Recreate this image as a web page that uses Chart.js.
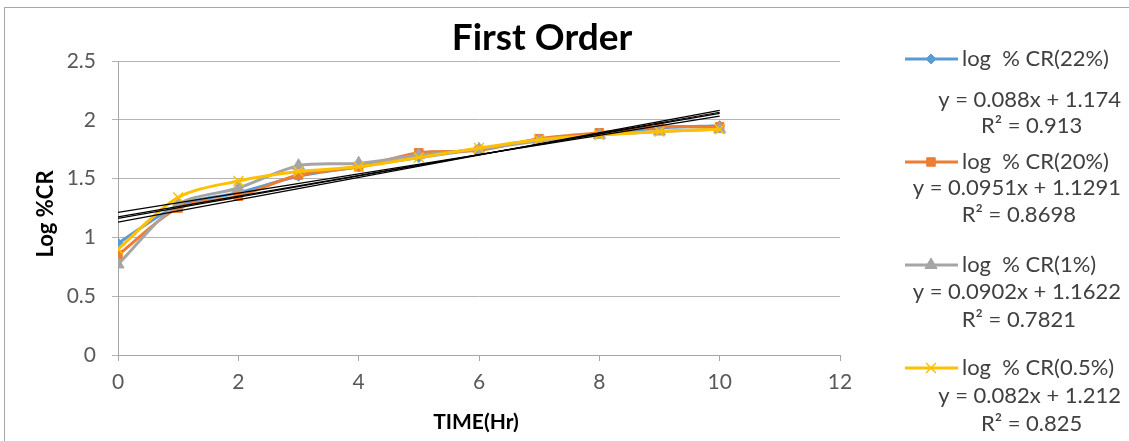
<!DOCTYPE html>
<html>
<head>
<meta charset="utf-8">
<script src="https://cdn.jsdelivr.net/npm/chart.js@4/dist/chart.umd.min.js"></script>
<style>
  html, body { margin: 0; padding: 0; background: #fff; }
  #wrap { position: relative; width: 1129px; height: 441px; overflow: hidden; }
  #frame { position: absolute; left: 4px; top: 7px; width: 1200px; height: 500px; border: 1px solid #a6a6a6; box-sizing: border-box; }
  canvas { position: absolute; left: 0; top: 0; }
</style>
</head>
<body>
<div id="wrap">
  <div id="frame"></div>
  <canvas id="chart" width="1129" height="441"></canvas>
</div>
<script>
// time in hours
const hours = [0, 1, 2, 3, 4, 5, 6, 7, 8, 9, 10];

// log %CR values
const cr22 = [0.95, 1.27, 1.38, 1.52, 1.60, 1.68, 1.75, 1.83, 1.88, 1.93, 1.95];
const cr20 = [0.85, 1.25, 1.35, 1.53, 1.60, 1.72, 1.74, 1.84, 1.89, 1.94, 1.94];
const cr1 = [0.77, 1.28, 1.42, 1.61, 1.63, 1.70, 1.75, 1.82, 1.87, 1.90, 1.92];
const cr05 = [0.90, 1.34, 1.48, 1.56, 1.60, 1.68, 1.76, 1.83, 1.87, 1.90, 1.92];

// linear trendlines: values at x = 0 and x = 10
const trendX = [0, 10];
const trend22 = [1.174, 2.054];
const trend20 = [1.1291, 2.0801];
const trend1 = [1.1622, 2.0642];
const trend05 = [1.212, 2.032];

const seriesNames = ["log  % CR(22%)", "log  % CR(20%)", "log  % CR(1%)", "log  % CR(0.5%)"];
const equations = ["y = 0.088x + 1.174", "y = 0.0951x + 1.1291", "y = 0.0902x + 1.1622", "y = 0.082x + 1.212"];
const rSquared = ["R² = 0.913", "R² = 0.8698", "R² = 0.7821", "R² = 0.825"];

const colors = ["#5B9BD5", "#ED7D31", "#A5A5A5", "#FFC000"];
const markers = ["rectRot", "rect", "triangle", "crossRot"];
const markerSizes = [5, 6, 7, 7];

const FONT = "Lato, 'Open Sans', sans-serif";

function pts(xs, ys) {
  return xs.map((x, i) => ({ x: x, y: ys[i] }));
}

const seriesData = [cr22, cr20, cr1, cr05];
const trendData = [trend22, trend20, trend1, trend05];

const datasets = [];
seriesData.forEach((ys, i) => {
  datasets.push({
    label: seriesNames[i],
    data: pts(hours, ys),
    borderColor: colors[i],
    backgroundColor: colors[i],
    borderWidth: 3,
    tension: 0.3,
    pointStyle: markers[i],
    pointRadius: markerSizes[i],
    pointBorderWidth: i == 3 ? 1.5 : 1,
    pointBorderColor: colors[i],
    pointBackgroundColor: colors[i],
    order: 4 - i,
  });
});
trendData.forEach((ys, i) => {
  datasets.push({
    label: "trend " + seriesNames[i],
    data: pts(trendX, ys),
    borderColor: "#000000",
    borderWidth: 1.2,
    pointRadius: 0,
    tension: 0,
    order: 0,
  });
});

// title, axis titles and the legend with equations
const decorations = {
  id: "decorations",
  afterDraw(chart) {
    const ctx = chart.ctx;
    ctx.save();
    ctx.fillStyle = "#000";
    ctx.textAlign = "center";
    ctx.textBaseline = "middle";
    ctx.font = "bold 37px " + FONT;
    ctx.fillText("First Order", 542, 38);

    ctx.font = "bold 21px " + FONT;
    ctx.fillText("TIME(Hr)", 476, 422);
    ctx.save();
    ctx.translate(46, 214);
    ctx.rotate(-Math.PI / 2);
    ctx.font = "bold 22px " + FONT;
    ctx.fillText("Log %CR", 0, 0);
    ctx.restore();

    const lineY = [59, 162, 265, 368];
    const eqY = [100, 188, 292, 396];
    const r2Y = [126, 215, 320, 424];
    ctx.font = "22px " + FONT;
    for (let i = 0; i < 4; i++) {
      ctx.strokeStyle = colors[i];
      ctx.lineWidth = 3;
      ctx.beginPath();
      ctx.moveTo(905, lineY[i]);
      ctx.lineTo(958, lineY[i]);
      ctx.stroke();
      ctx.fillStyle = colors[i];
      ctx.lineWidth = i == 3 ? 1.5 : 1;
      Chart.helpers.drawPoint(ctx, {
        pointStyle: markers[i],
        radius: markerSizes[i],
        borderWidth: ctx.lineWidth,
      }, 931, lineY[i]);
      ctx.fillStyle = "#404040";
      ctx.textAlign = "left";
      ctx.fillText(seriesNames[i], 962, lineY[i]);
      const w = ctx.measureText(equations[i]).width;
      ctx.textAlign = "right";
      ctx.fillText(equations[i], 1121, eqY[i]);
      ctx.textAlign = "center";
      ctx.fillText(rSquared[i], 1121 - w / 2 + 2, r2Y[i]);
    }
    ctx.restore();
  },
};

new Chart(document.getElementById("chart").getContext("2d"), {
  type: "line",
  data: { datasets: datasets },
  plugins: [decorations],
  options: {
    responsive: false,
    animation: false,
    layout: { padding: { left: 0, right: 289, top: 61, bottom: 0 } },
    plugins: {
      legend: { display: false },
      title: { display: false },
      tooltip: { enabled: false },
    },
    scales: {
      x: {
        type: "linear",
        min: 0,
        max: 12,
        afterFit: (scale) => { scale.height = 86; },
        ticks: {
          stepSize: 2,
          color: "#595959",
          font: { family: FONT, size: 21 },
          padding: 9,
          maxRotation: 0,
        },
        grid: {
          drawOnChartArea: false,
          drawTicks: true,
          tickLength: 6,
          color: "#a6a6a6",
        },
        border: { color: "#a6a6a6", width: 1 },
      },
      y: {
        min: 0,
        max: 2.5,
        afterFit: (scale) => { scale.width = 118; },
        ticks: {
          stepSize: 0.5,
          color: "#595959",
          font: { family: FONT, size: 21 },
          padding: 16,
          callback: (value) => String(value),
        },
        grid: {
          color: "#b3b3b3",
          tickLength: 6,
        },
        border: { color: "#a6a6a6", width: 1 },
      },
    },
  },
});
</script>
</body>
</html>
